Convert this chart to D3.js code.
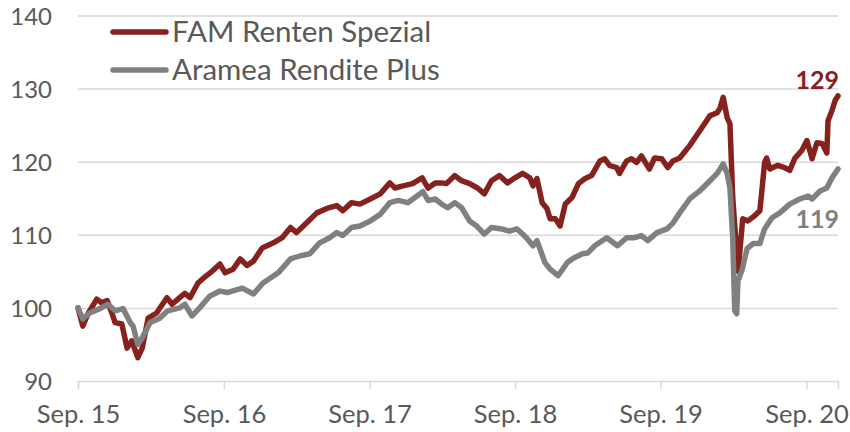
<!DOCTYPE html>
<html>
<head>
<meta charset="utf-8">
<script src="https://d3js.org/d3.v7.min.js"></script>
<style>
    body { margin: 0; background: #fff; }
    #chart-area { width: 850px; height: 432px; }
    .tick-label { font-family: Lato, sans-serif; font-size: 24px; fill: #595959; }
    .x-label { font-size: 25.5px; }
    .legend-label { font-family: Lato, sans-serif; font-size: 29.5px; fill: #595959; }
    .end-label { font-family: Lato, sans-serif; font-size: 25px; font-weight: bold; }
</style>
</head>
<body>
<div id="chart-area"></div>
<script>

// series names
let seriesNames = ["FAM Renten Spezial", "Aramea Rendite Plus"];

// FAM Renten Spezial (indexed, Sep. 15 = 100)
let famDates = ["2015-09-01","2015-09-13","2015-09-26","2015-10-18","2015-10-30","2015-11-13","2015-11-25","2015-12-03","2015-12-20",
    "2016-01-02","2016-01-14","2016-01-29","2016-02-09","2016-02-24","2016-03-16","2016-04-11","2016-04-24","2016-05-13","2016-05-26",
    "2016-06-08","2016-06-28","2016-07-10","2016-08-02","2016-08-22","2016-09-04","2016-09-24","2016-10-12","2016-10-29","2016-11-14",
    "2016-12-06","2017-01-03","2017-01-25","2017-02-15","2017-03-02","2017-03-27","2017-04-22","2017-05-17","2017-06-11","2017-06-26",
    "2017-07-18","2017-08-08","2017-09-03","2017-09-28","2017-10-22","2017-11-04","2017-11-24","2017-12-18","2018-01-11","2018-01-26",
    "2018-02-13","2018-03-01","2018-03-13","2018-04-03","2018-04-20","2018-05-10","2018-05-30","2018-06-16","2018-07-04","2018-07-24",
    "2018-08-13","2018-09-01","2018-09-20","2018-10-08","2018-10-16","2018-10-26","2018-11-08","2018-11-20","2018-11-28","2018-12-11",
    "2018-12-23","2019-01-05","2019-01-22","2019-02-07","2019-02-24","2019-03-12","2019-04-02","2019-04-14","2019-04-26","2019-05-14",
    "2019-05-21","2019-06-08","2019-06-20","2019-07-03","2019-07-15","2019-08-04","2019-08-17","2019-09-04","2019-09-19","2019-10-02",
    "2019-10-19","2019-11-13","2019-12-08","2020-01-03","2020-01-21","2020-01-28","2020-02-05","2020-02-15","2020-02-22","2020-02-29",
    "2020-03-10","2020-03-13","2020-03-18","2020-03-25","2020-04-07","2020-04-24","2020-05-07","2020-05-12","2020-05-19","2020-05-24",
    "2020-06-01","2020-06-21","2020-07-08","2020-07-21","2020-08-03","2020-08-20","2020-09-02","2020-09-15","2020-09-27","2020-10-10",
    "2020-10-22","2020-10-25","2020-11-04","2020-11-12","2020-11-19"];
let famValues = [100,97.5,99.2,101.2,100.7,101,99.3,98,97.8,
    94.5,95.5,93.2,94.5,98.6,99.3,101.4,100.5,101.4,102,
    101.4,103.4,104,105,106,104.8,105.3,106.7,105.8,106.4,
    108.2,108.9,109.6,111,110.3,111.6,113,113.6,114,113.3,
    114.4,114.2,114.9,115.6,117.1,116.4,116.7,117,117.8,116.4,
    117.1,117.1,117,118.1,117.4,117,116.4,115.6,117.4,118.1,
    117.1,117.8,118.4,117.8,116.7,117.7,114.4,113.6,112.2,112.2,
    111.2,114.2,115.1,117,117.7,118.1,120.1,120.4,119.5,119.2,
    118.4,120.1,120.4,119.9,120.8,119,120.5,120.4,119.2,120.1,
    120.5,122.2,124.2,126.3,126.7,127.3,128.8,126,125.2,115.1,
    107.5,105,107.8,112.2,111.9,112.6,113.3,116,119.9,120.5,
    119,119.5,119.2,118.8,120.5,121.5,122.9,120.4,122.6,122.5,
    121.2,125.6,127,128.4,129];

// Aramea Rendite Plus
let aramDates = ["2015-09-01","2015-09-13","2015-09-30","2015-10-26","2015-11-15","2015-12-03","2015-12-23","2016-01-10","2016-01-17",
    "2016-01-29","2016-02-09","2016-02-29","2016-03-24","2016-04-13","2016-05-13","2016-05-26","2016-06-13","2016-07-02","2016-07-27",
    "2016-08-22","2016-09-09","2016-10-17","2016-11-14","2016-12-08","2017-01-15","2017-02-15","2017-03-10","2017-04-04","2017-04-29",
    "2017-05-24","2017-06-11","2017-06-26","2017-07-18","2017-08-08","2017-09-03","2017-09-28","2017-10-22","2017-11-12","2017-12-06",
    "2017-12-24","2018-01-13","2018-01-26","2018-02-13","2018-03-01","2018-03-16","2018-04-03","2018-04-20","2018-05-10","2018-05-28",
    "2018-06-16","2018-07-04","2018-07-29","2018-08-18","2018-09-06","2018-09-20","2018-10-01","2018-10-16","2018-10-26","2018-11-15",
    "2018-11-28","2018-12-18","2019-01-10","2019-01-25","2019-02-17","2019-03-02","2019-03-20","2019-04-19","2019-05-16","2019-06-08",
    "2019-06-28","2019-07-15","2019-07-31","2019-08-23","2019-09-17","2019-10-02","2019-10-19","2019-11-13","2019-12-08","2020-01-03",
    "2020-01-21","2020-02-05","2020-02-15","2020-02-22","2020-02-29","2020-03-05","2020-03-10","2020-03-13","2020-03-23","2020-04-05",
    "2020-04-20","2020-05-07","2020-05-19","2020-06-06","2020-06-26","2020-07-21","2020-08-15","2020-09-05","2020-09-15","2020-10-05",
    "2020-10-22","2020-11-04","2020-11-19"];
let aramValues = [100,98.5,99.3,99.9,100.5,99.6,99.9,98,97.5,
    95,95.9,98,98.6,99.6,100,100.5,98.9,100,101.6,
    102.3,102.1,102.7,101.9,103.4,104.8,106.7,107.1,107.4,108.9,
    109.6,110.3,109.9,111,111.2,111.9,112.8,114.4,114.7,114.4,
    115.1,115.9,114.7,114.9,114.2,113.7,114.4,113.7,111.9,111.2,
    110.1,111,110.8,110.5,110.8,110.1,109.5,108.5,109.2,106.2,
    105.3,104.4,106.2,106.8,107.4,107.5,108.5,109.6,108.5,109.6,
    109.6,109.9,109.2,110.3,110.8,111.6,113,114.9,116,117.4,
    118.4,119.7,118.4,116.4,109.6,99.6,99.2,103.7,105.1,108.1,
    108.8,108.8,110.8,112.3,113,114.2,114.9,115.3,114.9,116,
    116.4,117.8,119];

// axes
let yTicks = [90, 100, 110, 120, 130, 140];
let xTickDates = ["2015-09-01","2016-09-01","2017-09-01","2018-09-01","2019-09-01","2020-09-01"];
let xTickLabels = ["Sep. 15","Sep. 16","Sep. 17","Sep. 18","Sep. 19","Sep. 20"];
let xDomain = ["2015-09-01", "2020-11-19"];

let colors = ["#86221e", "#808080"];


class PerformanceVis {

    constructor(parentElement) {
        this.parentElement = parentElement;
        this.parseDate = d3.timeParse("%Y-%m-%d");
        this.initVis();
    }

    initVis() {
        let vis = this;

        vis.margin = {top: 15.5, right: 12, bottom: 51, left: 78};
        vis.width = 850 - vis.margin.left - vis.margin.right;
        vis.height = 432 - vis.margin.top - vis.margin.bottom;

        vis.svg = d3.select("#" + vis.parentElement).append("svg")
            .attr("width", 850)
            .attr("height", 432)
            .append("g")
            .attr("transform", "translate(" + vis.margin.left + "," + vis.margin.top + ")");

        vis.x = d3.scaleTime()
            .domain(xDomain.map(vis.parseDate))
            .range([0, vis.width]);

        vis.y = d3.scaleLinear()
            .domain([90, 140])
            .range([vis.height, 0]);

        // gridlines
        vis.svg.append("g")
            .attr("class", "grid")
            .call(d3.axisLeft(vis.y).tickValues(yTicks.slice(1)).tickSize(-vis.width).tickFormat(""))
            .call(g => g.select(".domain").remove())
            .call(g => g.selectAll("line").attr("stroke", "#d9d9d9").attr("stroke-width", 1.5));

        // y labels
        vis.svg.append("g")
            .call(d3.axisLeft(vis.y).tickValues(yTicks).tickSize(0).tickPadding(26))
            .call(g => g.select(".domain").remove())
            .call(g => g.selectAll("text").attr("class", "tick-label").attr("dy", "0.36em"));

        // x axis
        vis.xAxis = d3.axisBottom(vis.x)
            .tickValues(xTickDates.map(vis.parseDate))
            .tickSize(8)
            .tickPadding(15)
            .tickFormat((d, i) => xTickLabels[i]);

        vis.svg.append("g")
            .attr("transform", "translate(0," + vis.height + ")")
            .call(vis.xAxis)
            .call(g => g.select(".domain").attr("stroke", "#d9d9d9").attr("stroke-width", 1.5))
            .call(g => g.selectAll("line").attr("stroke", "#d9d9d9").attr("stroke-width", 1.5))
            .call(g => g.selectAll("text").attr("class", "tick-label x-label").attr("dy", "0.75em"));

        vis.line = d3.line()
            .x(d => vis.x(d.date))
            .y(d => vis.y(d.value));

        vis.wrangleData();
    }

    wrangleData() {
        let vis = this;
        vis.series = [
            {name: seriesNames[0], color: colors[0], values: famDates.map((d, i) => ({date: vis.parseDate(d), value: famValues[i]}))},
            {name: seriesNames[1], color: colors[1], values: aramDates.map((d, i) => ({date: vis.parseDate(d), value: aramValues[i]}))}
        ];
        vis.updateVis();
    }

    updateVis() {
        let vis = this;

        // red first, gray on top of it (crash + early dip)
        vis.svg.selectAll(".series")
            .data(vis.series)
            .enter()
            .append("path")
            .attr("class", "series")
            .attr("fill", "none")
            .attr("stroke", d => d.color)
            .attr("stroke-width", 5.5)
            .attr("stroke-linejoin", "round")
            .attr("stroke-linecap", "round")
            .attr("d", d => vis.line(d.values));

        // legend
        let legend = vis.svg.append("g")
            .attr("transform", "translate(" + (113 - vis.margin.left) + "," + (32 - vis.margin.top) + ")");

        legend.selectAll("line")
            .data(vis.series)
            .enter()
            .append("line")
            .attr("x1", 0)
            .attr("x2", 53)
            .attr("y1", (d, i) => i * 38)
            .attr("y2", (d, i) => i * 38)
            .attr("stroke", d => d.color)
            .attr("stroke-width", 5.5)
            .attr("stroke-linecap", "round");

        legend.selectAll("text")
            .data(vis.series)
            .enter()
            .append("text")
            .attr("class", "legend-label")
            .attr("x", 59)
            .attr("y", (d, i) => i * 38)
            .attr("dy", "0.35em")
            .text(d => d.name);

        // end values
        vis.svg.selectAll(".end-label")
            .data(vis.series)
            .enter()
            .append("text")
            .attr("class", "end-label")
            .attr("text-anchor", "end")
            .attr("x", vis.width + 1)
            .attr("y", (d, i) => i === 0 ? 89 - vis.margin.top : 228 - vis.margin.top)
            .attr("fill", d => d.color)
            .text(d => Math.round(d.values[d.values.length - 1].value));
    }
}

let performanceVis = new PerformanceVis("chart-area");

</script>
</body>
</html>
